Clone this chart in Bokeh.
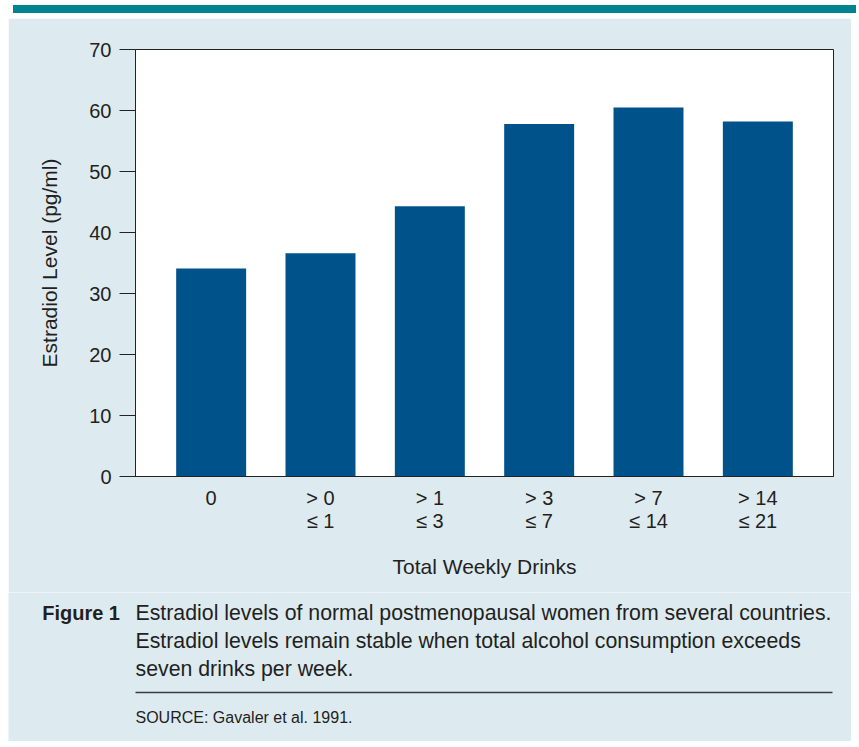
from bokeh.plotting import figure
from bokeh.models import FactorRange, FixedTicker, Label, Div, ColumnDataSource, Range1d
from bokeh.layouts import column
from bokeh.embed import file_html
from bokeh.resources import INLINE

categories = ["0", "> 0\n≤ 1", "> 1\n≤ 3", "> 3\n≤ 7", "> 7\n≤ 14", "> 14\n≤ 21"]
estradiol = [34.1, 36.6, 44.3, 57.8, 60.5, 58.2]
y_ticks = [0, 10, 20, 30, 40, 50, 60, 70]

x_title = "Total Weekly Drinks"
y_title = "Estradiol Level (pg/ml)"
fig_label = "Figure 1"
caption_lines = [
    "Estradiol levels of normal postmenopausal women from several countries.",
    "Estradiol levels remain stable when total alcohol consumption exceeds",
    "seven drinks per week.",
]
source_text = "SOURCE: Gavaler et al. 1991."

BG = "#ddebf1"
TEAL = "#00838f"
BAR = "#00528a"
TXT = "#231f20"
FONT = "Liberation Sans"

W = 843
H_MAIN = 574
H_CAP = 149

p = figure(
    width=W, height=H_MAIN,
    x_range=FactorRange(*categories, range_padding=0.064),
    y_range=(0, 70),
    output_backend="svg", toolbar_location=None,
    min_border_left=127, min_border_right=18, min_border_top=31, min_border_bottom=116,
)
p.frame_align = False
p.border_fill_color = BG
p.background_fill_color = "white"
p.outline_line_color = "#222222"
p.outline_line_width = 1
p.xgrid.grid_line_color = None
p.ygrid.grid_line_color = None

src = ColumnDataSource(dict(x=categories, y=estradiol))
p.vbar(x="x", top="y", width=0.64, source=src, fill_color=BAR, line_color=None)

# y axis
ya = p.yaxis[0]
ya.ticker = FixedTicker(ticks=y_ticks)
ya.minor_tick_line_color = None
ya.major_tick_out = 16
ya.major_tick_in = 0
ya.major_tick_line_color = "#222222"
ya.axis_line_color = "#222222"
ya.major_label_standoff = 8
ya.major_label_text_font = FONT
ya.major_label_text_font_size = "20px"
ya.major_label_text_color = TXT
ya.axis_label = y_title
ya.axis_label_text_font = FONT
ya.axis_label_text_font_size = "21px"
ya.axis_label_text_font_style = "normal"
ya.axis_label_text_color = TXT
ya.axis_label_standoff = 25

# x axis
xa = p.xaxis[0]
xa.major_tick_line_color = None
xa.major_tick_out = 0
xa.major_tick_in = 0
xa.minor_tick_line_color = None
xa.axis_line_color = "#222222"
xa.major_label_standoff = 10
xa.major_label_text_font = FONT
xa.major_label_text_font_size = "20px"
xa.major_label_text_line_height = 1.05
xa.major_label_text_color = TXT
xa.axis_label = x_title
xa.axis_label_text_font = FONT
xa.axis_label_text_font_size = "21px"
xa.axis_label_text_font_style = "normal"
xa.axis_label_text_color = TXT
xa.axis_label_standoff = 20

# caption panel: a figure whose data space is its own pixel grid (y downward)
cap = figure(
    width=W, height=H_CAP,
    x_range=Range1d(0, W), y_range=Range1d(H_CAP, 0),
    output_backend="svg", toolbar_location=None,
    min_border=0,
)
cap.frame_align = False
cap.axis.visible = False
cap.grid.visible = False
cap.outline_line_color = None
cap.background_fill_color = BG
cap.border_fill_color = BG

cap.add_layout(Label(x=33.7, y=20, text=fig_label,
                     text_font=FONT, text_font_size="20px", text_font_style="bold",
                     text_color=TXT, text_baseline="alphabetic"))
for i, line in enumerate(caption_lines):
    cap.add_layout(Label(x=127, y=20 + 28 * i, text=line,
                         text_font=FONT, text_font_size="21.3px", text_color=TXT,
                         text_baseline="alphabetic"))
cap.segment(x0=[127], y0=[100], x1=[824], y1=[100], line_color="#3a3a3a", line_width=1.5)
cap.add_layout(Label(x=127, y=125, text=source_text,
                     text_font=FONT, text_font_size="16px", text_color=TXT,
                     text_baseline="alphabetic"))

bar = Div(width=W, height=8, styles={"background-color": TEAL})
layout = column(bar, p, cap, spacing=0, styles={"margin-left": "8px"})

open("out.html", "w").write(file_html(layout, INLINE))
